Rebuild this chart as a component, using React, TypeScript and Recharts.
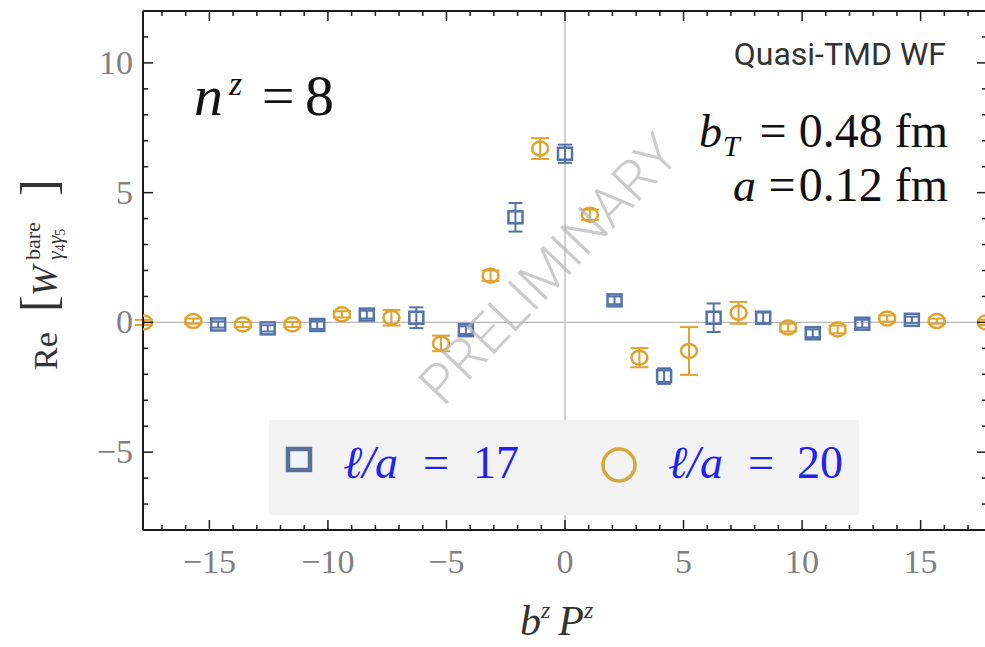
import { ScatterChart, Scatter, XAxis, YAxis, ErrorBar, ReferenceLine } from 'recharts';

// l/a = 17 (blue squares)
const blueX = [-14.63, -12.54, -10.45, -8.36, -6.27, -4.18, -2.09, 0, 2.09, 4.18, 6.27, 8.36, 10.45, 12.54, 14.63];
const blueY = [-0.08, -0.23, -0.1, 0.3, 0.18, -0.3, 4.05, 6.5, 0.85, -2.07, 0.18, 0.18, -0.42, -0.05, 0.1];
const blueErr = [0.12, 0.12, 0.15, 0.15, 0.4, 0.15, 0.55, 0.35, 0.15, 0.3, 0.55, 0.2, 0.15, 0.15, 0.12];

// l/a = 20 (orange circles)
const orangeX = [-17.76, -15.68, -13.59, -11.5, -9.41, -7.32, -5.23, -3.14, -1.05, 1.05, 3.14, 5.23, 7.32, 9.41, 11.5, 13.59, 15.68, 17.76];
const orangeY = [0, 0.05, -0.08, -0.08, 0.31, 0.18, -0.81, 1.8, 6.7, 4.15, -1.36, -1.1, 0.37, -0.2, -0.27, 0.15, 0.05, 0];
const orangeErr = [0.1, 0.1, 0.1, 0.1, 0.12, 0.3, 0.3, 0.2, 0.4, 0.2, 0.37, 0.92, 0.42, 0.15, 0.15, 0.12, 0.1, 0.1];

const xTicks = [-17, -16, -15, -14, -13, -12, -11, -10, -9, -8, -7, -6, -5, -4, -3, -2, -1, 0, 1, 2, 3, 4, 5, 6, 7, 8, 9, 10, 11, 12, 13, 14, 15, 16, 17];
const yTicks = [-8, -7, -6, -5, -4, -3, -2, -1, 0, 1, 2, 3, 4, 5, 6, 7, 8, 9, 10, 11, 12];

const BLUE = '#5373ac';
const ORANGE = '#e1a22e';
const FRAME = '#1c1c1c';
const SERIF = '"Liberation Serif", "DejaVu Serif", serif';

const blueData = blueX.map((x, i) => ({ x, y: blueY[i], err: blueErr[i] }));
const orangeData = orangeX.map((x, i) => ({ x, y: orangeY[i], err: orangeErr[i] }));

const fmt = (v: number) => (v < 0 ? `\u2212${-v}` : `${v}`);

function XTick({ x, y, payload, side }: any) {
  const v = payload.value;
  const major = v % 5 === 0;
  const len = major ? 10 : 5;
  const dir = side === 'bottom' ? -1 : 1;
  return (
    <g>
      <line x1={x} y1={y} x2={x} y2={y + dir * len} stroke={FRAME} strokeWidth={1.5} />
      {side === 'bottom' && major && (
        <text x={x} y={y + 43} textAnchor="middle" fontFamily={SERIF} fontSize={34} fill="#808080">
          {fmt(v)}
        </text>
      )}
    </g>
  );
}

function YTick({ x, y, payload, side }: any) {
  const v = payload.value;
  const major = v % 5 === 0;
  const len = major ? 10 : 5;
  const dir = side === 'left' ? 1 : -1;
  return (
    <g>
      <line x1={x} y1={y} x2={x + dir * len} y2={y} stroke={FRAME} strokeWidth={1.5} />
      {side === 'left' && major && (
        <text x={x - 10} y={y + 11} textAnchor="end" fontFamily={SERIF} fontSize={34} fill="#808080">
          {fmt(v)}
        </text>
      )}
    </g>
  );
}

const Square = (p: any) => (
  <rect x={p.cx - 7} y={p.cy - 6} width={14} height={12} fill="none" stroke={BLUE} strokeWidth={2.5} />
);
const Ring = (p: any) => (
  <ellipse cx={p.cx} cy={p.cy} rx={8} ry={7} fill="none" stroke={ORANGE} strokeWidth={2.5} />
);

export default function App() {
  return (
    <div style={{ position: 'fixed', left: 0, top: 0, width: 985, height: 647, overflow: 'hidden', background: '#fff' }}>
      <ScatterChart width={1000} height={647} margin={{ top: 10, right: 12, bottom: 57, left: 83 }}>
        <XAxis
          dataKey="x"
          type="number"
          domain={[-17.8, 17.8]}
          allowDataOverflow
          ticks={xTicks}
          interval={0}
          height={60}
          tickSize={0}
          tickMargin={0}
          stroke={FRAME}
          strokeWidth={2}
          tick={(p: any) => <XTick {...p} side="bottom" />}
        />
        <XAxis
          xAxisId="top"
          orientation="top"
          dataKey="x"
          type="number"
          domain={[-17.8, 17.8]}
          allowDataOverflow
          ticks={xTicks}
          interval={0}
          height={1}
          tickSize={0}
          tickMargin={0}
          stroke={FRAME}
          strokeWidth={2}
          tick={(p: any) => <XTick {...p} side="top" />}
        />
        <YAxis
          dataKey="y"
          type="number"
          domain={[-8, 12]}
          allowDataOverflow
          ticks={yTicks}
          interval={0}
          width={60}
          tickSize={0}
          tickMargin={0}
          stroke={FRAME}
          strokeWidth={2}
          tick={(p: any) => <YTick {...p} side="left" />}
        />
        <YAxis
          yAxisId="right"
          orientation="right"
          dataKey="y"
          type="number"
          domain={[-8, 12]}
          allowDataOverflow
          ticks={yTicks}
          interval={0}
          width={1}
          tickSize={0}
          tickMargin={0}
          stroke={FRAME}
          strokeWidth={2}
          tick={(p: any) => <YTick {...p} side="right" />}
        />
        <ReferenceLine y={0} stroke="#b8b8b8" strokeWidth={1.3} />
        <ReferenceLine x={0} stroke="#b8b8b8" strokeWidth={1.3} />
        <Scatter data={blueData} shape={Square} isAnimationActive={false}>
          <ErrorBar dataKey="err" direction="y" width={7} stroke={BLUE} strokeWidth={2} />
        </Scatter>
        <Scatter data={orangeData} shape={Ring} isAnimationActive={false}>
          <ErrorBar dataKey="err" direction="y" width={9} stroke={ORANGE} strokeWidth={2} />
        </Scatter>
      </ScatterChart>

      <svg width={985} height={647} style={{ position: 'absolute', left: 0, top: 0, pointerEvents: 'none' }}>
        {/* axis titles */}
        <text x={520} y={635} fontFamily={SERIF} fontSize={42} fontStyle="italic" fill="#333">
          b<tspan fontSize={24} dy={-17}>z</tspan>
          <tspan dx={8} dy={17}>P</tspan>
          <tspan fontSize={24} dy={-17}>z</tspan>
        </text>
        <g transform="translate(57,370) rotate(-90)" fontFamily={SERIF} fill="#333">
          <text x={0} y={0} fontSize={34}>Re</text>
          <text x={58} y={-2} fontSize={50}>[</text>
          <text x={74} y={0} fontSize={36} fontStyle="italic">W</text>
          <text x={110} y={-17} fontSize={22}>bare</text>
          <text x={110} y={5} fontSize={22} fontStyle="italic">
            γ<tspan fontSize={14} fontStyle="normal" dy={3}>4</tspan>
            <tspan dy={-3}>γ</tspan>
            <tspan fontSize={14} fontStyle="normal" dy={3}>5</tspan>
          </text>
          <text x={174} y={-2} fontSize={50}>]</text>
        </g>

        {/* annotations */}
        <g fontFamily={SERIF} fill="#111">
          <text x={194} y={115} fontSize={58} fontStyle="italic">n</text>
          <text x={229} y={95} fontSize={34} fontStyle="italic">z</text>
          <text x={278} y={115} fontSize={58} textAnchor="middle">=</text>
          <text x={305} y={115} fontSize={58}>8</text>

          <text x={699} y={147} fontSize={46} fontStyle="italic">b</text>
          <text x={723} y={156} fontSize={30} fontStyle="italic">T</text>
          <text x={773} y={147} fontSize={48} textAnchor="middle">=</text>
          <text x={948} y={147} fontSize={48} textAnchor="end">0.48 fm</text>

          <text x={733} y={201} fontSize={46} fontStyle="italic">a</text>
          <text x={782} y={201} fontSize={48} textAnchor="middle">=</text>
          <text x={948} y={201} fontSize={48} textAnchor="end">0.12 fm</text>
        </g>
        <text x={946} y={65} textAnchor="end" fontFamily="Roboto, sans-serif" fontSize={32} fill="#333">
          Quasi-TMD WF
        </text>

        {/* legend */}
        <rect x={269} y={420} width={590} height={95} fill="#f2f2f2" />
        <rect x={288} y={449} width={22} height={21} fill="#eef4fb" stroke="#5a6e96" strokeWidth={4.5} />
        <g fontFamily={SERIF} fontSize={46} fill="#2222ee">
          <text x={343} y={478}>
            <tspan fontStyle="italic">ℓ/a</tspan>
          </text>
          <text x={436} y={478} textAnchor="middle">=</text>
          <text x={473} y={478}>17</text>
          <text x={668} y={478}>
            <tspan fontStyle="italic">ℓ/a</tspan>
          </text>
          <text x={761} y={478} textAnchor="middle">=</text>
          <text x={797} y={478}>20</text>
        </g>
        <circle cx={619} cy={465} r={16} fill="none" stroke="#d0a83e" strokeWidth={3.5} />

        {/* watermark */}
        <text
          transform="translate(552,272) rotate(-46.5)"
          textAnchor="middle"
          dominantBaseline="middle"
          fontFamily="Roboto, sans-serif"
          fontWeight={300}
          fontSize={55}
          fill="#b5b5b5"
          fillOpacity={0.7}
        >
          PRELIMINARY
        </text>
      </svg>
    </div>
  );
}
